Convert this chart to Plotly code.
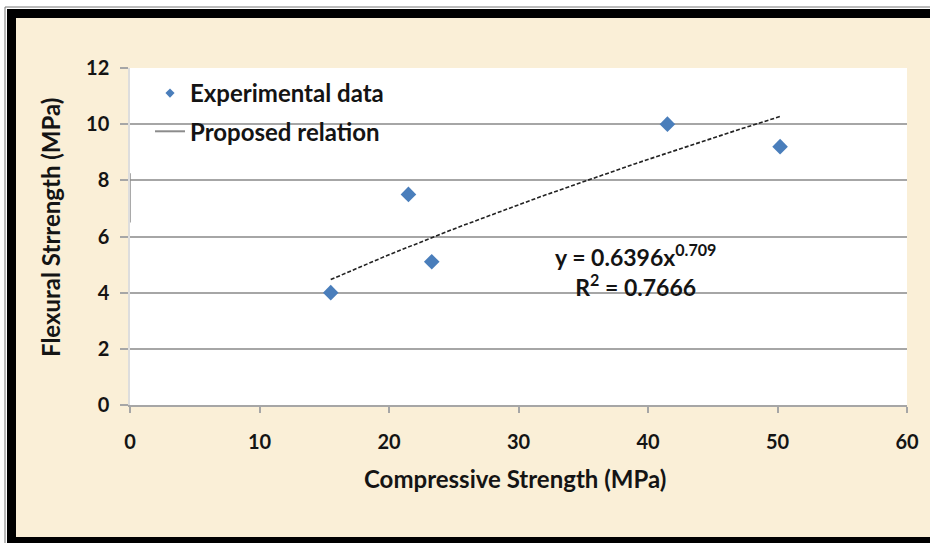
import numpy as np
import plotly.graph_objects as go

# ---- data ----
compressive = [15.5, 21.5, 23.3, 41.5, 50.2]   # MPa
flexural = [4.0, 7.5, 5.1, 10.0, 9.2]          # MPa
# power-law trend given on the chart: y = a * x^b
coef_a = 0.6396
coef_b = 0.709
r_squared = 0.7666
x_ticks = [0, 10, 20, 30, 40, 50, 60]
y_ticks = [0, 2, 4, 6, 8, 10, 12]
x_title = "Compressive Strength (MPa)"
y_title = "Flexural Strrength (MPa)"

W, H = 930, 543
L, R, T, B = 130, 23, 68, 138
PW, PH = W - L - R, H - T - B

def px(xp):
    return (xp - L) / PW

def py(yp):
    return (H - B - yp) / PH

trend_x = np.linspace(min(compressive), max(compressive), 60)
trend_y = coef_a * trend_x ** coef_b

FONT = "Lato"
BEIGE = "#FAEFD7"
GRID = "#A6A6A6"
TXT = "#141414"

fig = go.Figure()

fig.add_trace(go.Scatter(
    x=trend_x, y=trend_y, mode="lines",
    line=dict(color="#222222", width=1.6, dash="4px,2px"),
    showlegend=False, hoverinfo="skip"))

fig.add_trace(go.Scatter(
    x=compressive, y=flexural, mode="markers",
    marker=dict(symbol="diamond", size=12, color="#4A7EBB"),
    name="Experimental data", showlegend=False))

# legend entries
fig.add_trace(go.Scatter(
    x=[None], y=[None], mode="markers",
    marker=dict(symbol="diamond", size=7, color="#4A7EBB"),
    name="Experimental data", legendgroup="a", showlegend=True))
fig.add_trace(go.Scatter(
    x=[None], y=[None], mode="lines",
    line=dict(color="#8C8C8C", width=2),
    name="Proposed relation", legendgroup="b", showlegend=True))

shapes = []
# darker partial y-axis segment
shapes.append(dict(type="line", xref="x", yref="y", x0=0, x1=0, y0=6.5, y1=8.25,
                   line=dict(color="#8C8C8C", width=1.5)))
# frame: white outer strips, thin gray lines, black bands
shapes += [
    dict(type="rect", xref="paper", yref="paper", x0=px(0), x1=px(W), y0=py(9), y1=py(0),
         fillcolor="white", line=dict(width=0), layer="above"),
    dict(type="rect", xref="paper", yref="paper", x0=px(0), x1=px(7), y0=py(H), y1=py(0),
         fillcolor="white", line=dict(width=0), layer="above"),
    dict(type="line", xref="paper", yref="paper", x0=px(5), x1=px(W), y0=py(7), y1=py(7),
         line=dict(color="#777777", width=1), layer="above"),
    dict(type="line", xref="paper", yref="paper", x0=px(5), x1=px(5), y0=py(7), y1=py(H),
         line=dict(color="#777777", width=1), layer="above"),
    dict(type="rect", xref="paper", yref="paper", x0=px(7), x1=px(W), y0=py(18), y1=py(9),
         fillcolor="black", line=dict(width=0), layer="above"),
    dict(type="rect", xref="paper", yref="paper", x0=px(7), x1=px(16), y0=py(H), y1=py(9),
         fillcolor="black", line=dict(width=0), layer="above"),
    dict(type="rect", xref="paper", yref="paper", x0=px(7), x1=px(W), y0=py(H), y1=py(537),
         fillcolor="black", line=dict(width=0), layer="above"),
]

annotations = [
    dict(x=39.0, y=4.8, xref="x", yref="y", showarrow=False,
         text=f"y = {coef_a}x<sup>{coef_b}</sup><br>R<sup>2</sup> = {r_squared}",
         font=dict(family=FONT, size=23, color=TXT, weight="bold"), align="center"),
    dict(x=px(515), y=py(478), xref="paper", yref="paper", showarrow=False,
         xanchor="center", yanchor="middle", text=x_title,
         font=dict(family=FONT, size=24, color=TXT, weight="bold")),
    dict(x=px(50), y=py(228), xref="paper", yref="paper", showarrow=False,
         xanchor="center", yanchor="middle", textangle=-90, text=y_title,
         font=dict(family=FONT, size=24, color=TXT, weight="bold")),
]

fig.update_layout(
    width=W, height=H,
    margin=dict(l=L, r=R, t=T, b=B, pad=0),
    paper_bgcolor=BEIGE, plot_bgcolor="white",
    font=dict(family=FONT, size=18, color=TXT),
    shapes=shapes,
    annotations=annotations,
    showlegend=True,
    legend=dict(x=px(150), y=py(71), xanchor="left", yanchor="top",
                bgcolor="rgba(0,0,0,0)", tracegroupgap=4,
                font=dict(family=FONT, size=24, color=TXT, weight="bold")),
)

fig.update_xaxes(
    range=[0, 60], tickvals=x_ticks, showgrid=False,
    showline=True, linecolor=GRID, linewidth=1.5,
    ticks="outside", ticklen=6, tickcolor=GRID, tickwidth=1.5,
    ticklabelstandoff=12,
    tickfont=dict(family=FONT, size=20, weight="bold", color=TXT),
    zeroline=False, fixedrange=True)

fig.update_yaxes(
    range=[0, 12], tickvals=y_ticks, showgrid=True, gridcolor=GRID, gridwidth=1.5,
    showline=True, linecolor="#DDDDDD", linewidth=1.5,
    ticks="outside", ticklen=8, tickcolor=GRID, tickwidth=1.5,
    ticklabelstandoff=7,
    tickfont=dict(family=FONT, size=20, weight="bold", color=TXT),
    zeroline=False, fixedrange=True)

fig.write_html("out.html", config={"displayModeBar": False},
               post_script="document.body.style.margin='0';document.body.style.padding='0';document.body.style.overflow='hidden';")
